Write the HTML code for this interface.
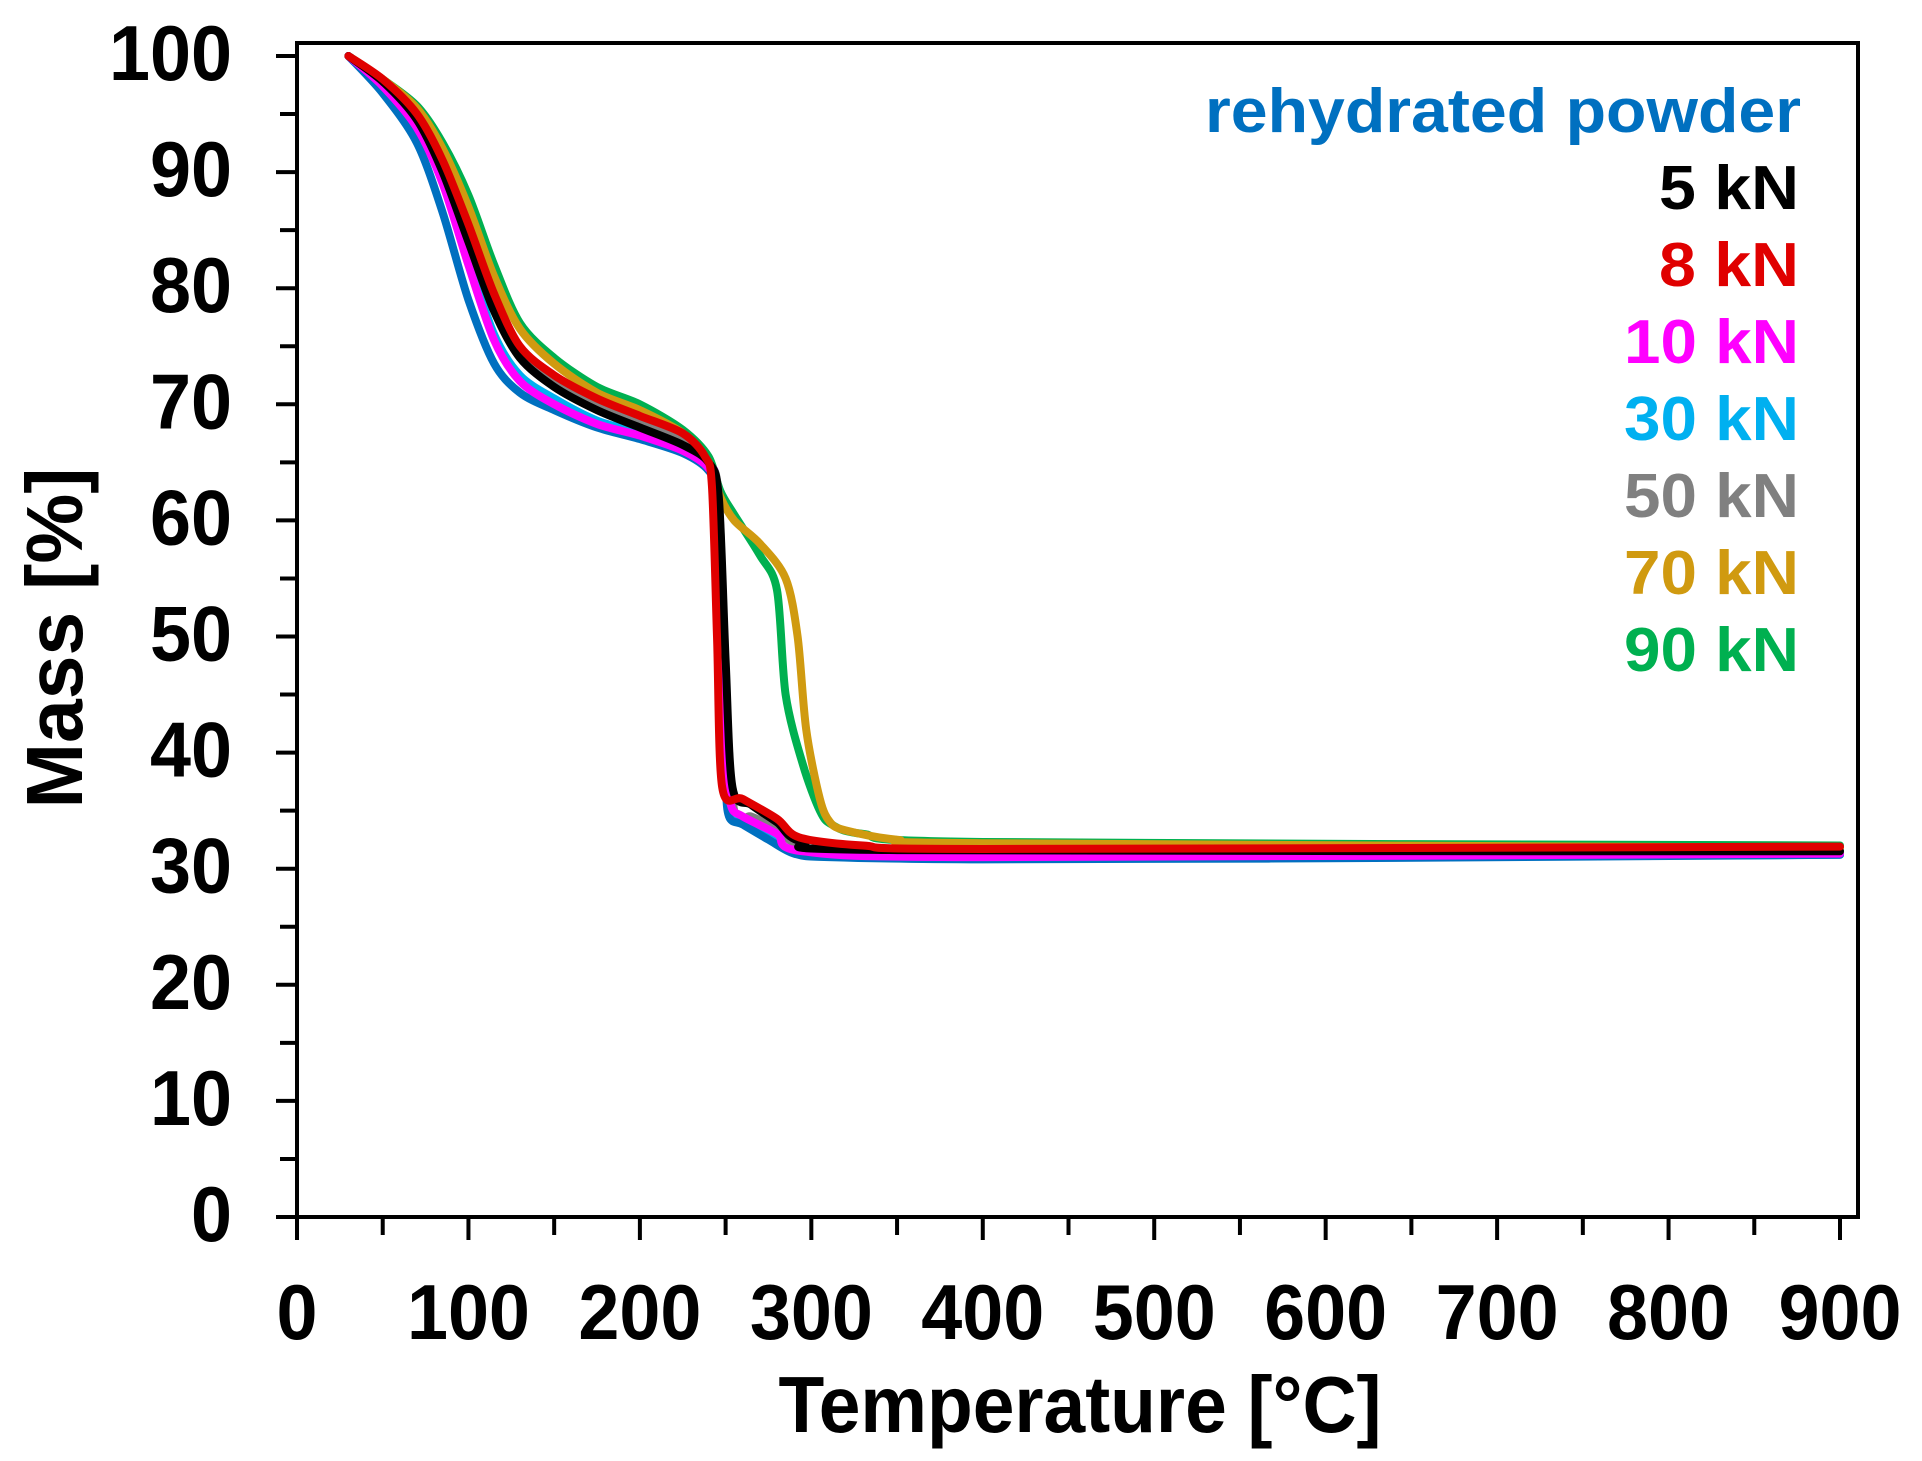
<!DOCTYPE html>
<html><head><meta charset="utf-8"><style>
html,body{margin:0;padding:0;background:#fff;}
svg{display:block;font-family:"Liberation Sans",Arial,sans-serif;font-weight:bold;}
</style></head><body>
<svg id="chart" width="1922" height="1461" viewBox="0 0 1922 1461" xmlns="http://www.w3.org/2000/svg">
<g id="grid"></g>
<g id="series"></g>
<g id="legend"></g>
<text x="1080" y="1432" text-anchor="middle" font-size="80" textLength="603" lengthAdjust="spacingAndGlyphs">Temperature [°C]</text>
<text transform="translate(82,638) rotate(-90)" text-anchor="middle" font-size="80" textLength="341" lengthAdjust="spacingAndGlyphs">Mass  [%]</text>
</svg>
<script>
const xTicks=[0,100,200,300,400,500,600,700,800,900];
const yTicks=[0,10,20,30,40,50,60,70,80,90,100];
const seriesNames=["rehydrated powder","5 kN","8 kN","10 kN","30 kN","50 kN","70 kN","90 kN"];
const seriesColors=["#0070c0","#000000","#e00000","#ff00ff","#00b0f0","#808080","#d09a10","#00b050"];
const tRehyd=[30,50,70,85,100,115,130,150,175,200,225,240,245,248,250,252,260,275,290,310,400,600,900];
const mRehyd=[100,96.8,92.5,86.5,79,73.5,71,69.5,68,67,65.8,64.3,62,50,38,34.5,33.8,32.5,31.3,31,30.8,30.9,31.2];
const t5=[30,50,70,85,100,115,130,150,175,200,225,240,246,250,254,265,280,295,350,900];
const m5=[100,97.8,94.5,90,84,78,74,71.5,69.5,68,66.5,65,62,48,37,35.5,34,32.3,31.6,31.5];
const t8=[30,50,70,85,100,115,130,150,175,200,225,238,242,245,248,260,280,293,330,400,900];
const m8=[100,98,95,91,85.5,79.5,75,72.5,70.5,69,67.5,65.5,63,50,37,36,34.3,32.7,32,31.7,31.9];
const t10=[30,50,70,85,100,115,130,150,175,200,225,240,245,250,253,260,280,295,400,900];
const m10=[100,97.4,93.8,89,82,75.5,72,70,68.3,67.3,66,64.5,62,40,35.5,34.5,33,31.5,31,31.3];
const t30=[30,50,70,85,100,115,130,150,175,200,225,240,245,250,253,260,280,295,400,900];
const m30=[100,97.5,94,89.3,82.5,76,72.5,70.5,68.6,67.5,66,64.5,62,40,35,34.3,32.8,31.4,30.9,31.2];
const t50=[30,50,70,85,100,115,130,150,175,200,225,240,246,250,255,265,280,295,350,900];
const m50=[100,97.8,94.7,90.5,84.5,78.5,74.5,72,70,68.5,67,65,62,46,35,34.5,33.5,32,31.5,31.5];
const t70=[30,50,70,85,100,115,130,150,175,200,225,240,247,255,270,285,292,297,305,311,320,350,400,900];
const m70=[100,98,95.5,92,87,81,76.5,73.5,71,69.5,67.5,65,62,60,58,55,50,42,36,34,33.3,32.5,32.2,31.8];
const t90=[30,50,70,85,100,115,130,150,175,200,225,240,247,255,270,280,285,295,305,312,330,400,900];
const m90=[100,98,95.7,92.5,88,82,77,74,71.5,70,67.8,65.5,62.5,60.5,57,54,45,39,35,33.8,33,32.3,32];
const allT=[tRehyd,t5,t8,t10,t30,t50,t70,t90];
const allM=[mRehyd,m5,m8,m10,m30,m50,m70,m90];
const drawOrder=[7,6,5,4,0,3,1,2];

const X0=297,X1=1840,Y0=1217,Y1=56;
function xs(v){return X0+(v-xTicks[0])/(xTicks[xTicks.length-1]-xTicks[0])*(X1-X0);}
function ys(v){return Y0-(v-yTicks[0])/(yTicks[yTicks.length-1]-yTicks[0])*(Y0-Y1);}
const NS="http://www.w3.org/2000/svg";
function mk(tag,attrs,parent){const e=document.createElementNS(NS,tag);for(const k in attrs)e.setAttribute(k,attrs[k]);parent.appendChild(e);return e;}
const grid=document.getElementById('grid');
const fr=mk('rect',{x:X0,y:43,width:1858-X0,height:Y0-43,fill:'none',stroke:'#000','stroke-width':4},grid);


for(let i=0;i<yTicks.length;i++){
  const y=ys(yTicks[i]);
  const t=mk('line',{x1:X0-21,x2:X0,y1:y,y2:y,stroke:'#000','stroke-width':4},grid);
  
  
  if(i<yTicks.length-1){
    const ym=ys((yTicks[i]+yTicks[i+1])/2);
    const m=mk('line',{x1:X0-17,x2:X0,y1:ym,y2:ym,stroke:'#000','stroke-width':4},grid);
    
    
  }
  const s=String(yTicks[i]);
  const l=mk('text',{x:232,y:y+24,'text-anchor':'end','font-size':78,textLength:41*s.length,lengthAdjust:'spacingAndGlyphs'},grid);
  l.textContent=s;
  
  
}
for(let i=0;i<xTicks.length;i++){
  const x=xs(xTicks[i]);
  const t=mk('line',{x1:x,x2:x,y1:Y0,y2:Y0+23,stroke:'#000','stroke-width':4},grid);
  
  
  if(i<xTicks.length-1){
    const xm=xs((xTicks[i]+xTicks[i+1])/2);
    const m=mk('line',{x1:xm,x2:xm,y1:Y0,y2:Y0+18,stroke:'#000','stroke-width':4},grid);
    
    
  }
  const s=String(xTicks[i]);
  const l=mk('text',{x:x,y:1339,'text-anchor':'middle','font-size':78,textLength:41*s.length,lengthAdjust:'spacingAndGlyphs'},grid);
  l.textContent=s;
  
  
}
function smoothPath(pts){
  let d='M'+pts[0][0]+','+pts[0][1];
  for(let i=0;i<pts.length-1;i++){
    const p0=pts[Math.max(0,i-1)],p1=pts[i],p2=pts[i+1],p3=pts[Math.min(pts.length-1,i+2)];
    const k=0.15;
    const c1=[p1[0]+(p2[0]-p0[0])*k,p1[1]+(p2[1]-p0[1])*k];
    const c2=[p2[0]-(p3[0]-p1[0])*k,p2[1]-(p3[1]-p1[1])*k];
    d+=' C'+c1[0].toFixed(1)+','+c1[1].toFixed(1)+' '+c2[0].toFixed(1)+','+c2[1].toFixed(1)+' '+p2[0].toFixed(1)+','+p2[1].toFixed(1);
  }
  return d;
}
const sg=document.getElementById('series');
drawOrder.forEach(s=>{
  const pts=allT[s].map((t,i)=>[xs(t),ys(allM[s][i])]);
  const p=mk('path',{d:smoothPath(pts),fill:'none',stroke:seriesColors[s],'stroke-width':8,'stroke-linejoin':'round','stroke-linecap':'round'},sg);
  
  
});
const lg=document.getElementById('legend');
seriesNames.forEach((n,i)=>{
  const attrs={x:1799,y:132+77*i,'text-anchor':'end','font-size':62,fill:seriesColors[i]};
  if(i===0){attrs.x=1801;attrs.textLength=596;attrs.lengthAdjust='spacingAndGlyphs';}
  else{attrs.textLength=n.length*35;attrs.lengthAdjust='spacingAndGlyphs';}
  const t=mk('text',attrs,lg);
  t.textContent=n;
  
  
});
</script>
</body></html>
